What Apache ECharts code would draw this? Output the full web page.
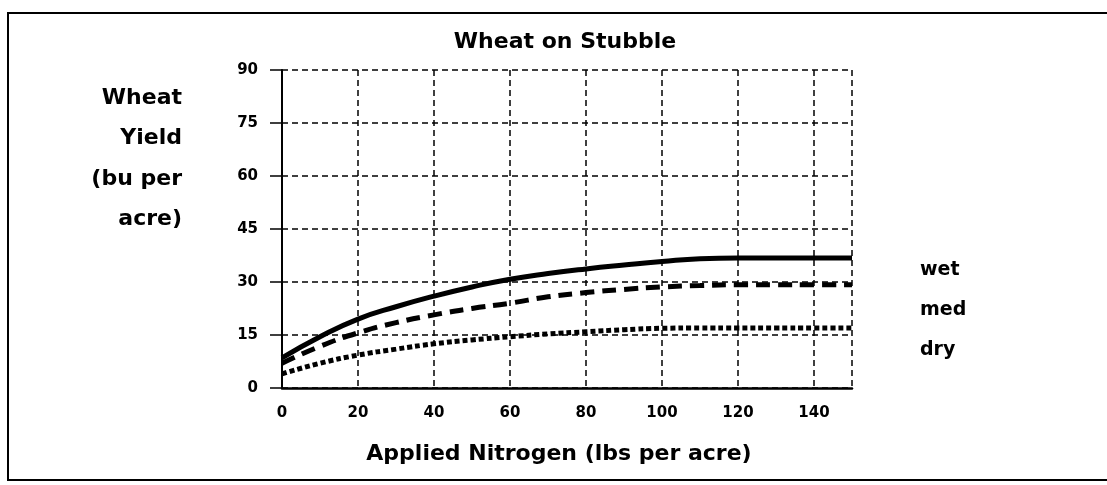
<!DOCTYPE html>
<html>
<head>
<meta charset="utf-8">
<title>Wheat on Stubble</title>
<script src="https://cdn.jsdelivr.net/npm/echarts@6/dist/echarts.min.js"></script>
<style>
* {
  margin: 0;
  padding: 0;
}
body {
  background: #fff;
}
</style>
</head>
<body>
<div id="wheatChartId" style="width: 1107px;height: 485px;"></div>
<script>
// applied nitrogen, lbs per acre
let nitrogen = [0, 10, 20, 30, 40, 50, 60, 70, 80, 90, 100, 110, 120, 130, 140, 150];
// yield, bu per acre
let wetYield = [8.5, 14.5, 19.5, 23, 26, 28.6, 30.8, 32.4, 33.7, 34.8, 35.8, 36.6, 36.8, 36.8, 36.8, 36.8];
let medYield = [7, 11.8, 15.6, 18.5, 20.7, 22.5, 24, 25.8, 27, 27.9, 28.6, 29, 29.2, 29.2, 29.2, 29.2];
let dryYield = [4, 7, 9.3, 11, 12.5, 13.6, 14.5, 15.3, 15.9, 16.5, 16.9, 17, 17, 17, 17, 17];
let seriesNames = ["wet", "med", "dry"];

let font = "DejaVu Sans";

function pairs(ys) {
  return nitrogen.map((x, i) => [x, ys[i]]);
}

let chart = echarts.init(document.getElementById("wheatChartId"));
let gridDash = { color: "#000", width: 1.5, type: [6, 4] };

let option = {
  backgroundColor: "#fff",
  animation: false,
  title: {
    text: "Wheat on Stubble",
    left: 565,
    top: 31,
    padding: 0,
    textAlign: "center",
    textStyle: { fontFamily: font, fontWeight: "bold", fontSize: 22, color: "#000" }
  },
  legend: {
    data: seriesNames,
    orient: "vertical",
    left: 910,
    top: 254,
    icon: "rect",
    itemWidth: 0,
    itemHeight: 22,
    itemGap: 18,
    textStyle: { fontFamily: font, fontWeight: "bold", fontSize: 19, color: "#000" }
  },
  grid: {
    left: 282,
    right: 255,
    top: 70,
    bottom: 97
  }, // plot box: x 282..852, y 70..388
  xAxis: {
    type: "value",
    min: 0,
    max: 150,
    interval: 20,
    name: "Applied Nitrogen (lbs per acre)",
    nameLocation: "middle",
    nameGap: 55,
    nameTextStyle: {
      fontFamily: font, fontWeight: "bold", fontSize: 22, color: "#000",
      padding: [0, 16, 0, 0]
    },
    axisLine: { show: true, lineStyle: { color: "#000", width: 2.5 } },
    axisTick: { show: false },
    axisLabel: {
      showMaxLabel: false,
      margin: 18,
      fontFamily: font, fontWeight: "bold", fontSize: 15, color: "#000"
    },
    splitLine: { show: true, lineStyle: gridDash }
  },
  yAxis: {
    type: "value",
    min: 0,
    max: 90,
    interval: 15,
    axisLine: { show: true, lineStyle: { color: "#000", width: 2 } },
    axisTick: { show: true, length: 12, lineStyle: { color: "#000", width: 1.5 } },
    axisLabel: {
      margin: 24,
      fontFamily: font, fontWeight: "bold", fontSize: 15, color: "#000"
    },
    splitLine: { show: true, lineStyle: gridDash }
  },
  graphic: [
    {
      // outer frame
      type: "rect",
      shape: { x: 8, y: 13, width: 1110, height: 467 },
      style: { fill: "none", stroke: "#000", lineWidth: 2 },
      silent: true
    },
    {
      // y axis title, right aligned
      type: "text",
      x: 182,
      y: 78,
      style: {
        text: "Wheat\nYield\n(bu per\nacre)",
        align: "right",
        verticalAlign: "top",
        lineHeight: 40.5,
        font: "bold 22px " + font,
        fill: "#000"
      }
    }
  ],
  series: [
    {
      name: seriesNames[0],
      type: "line",
      data: pairs(wetYield),
      smooth: true,
      showSymbol: false,
      lineStyle: { color: "#000", width: 5 },
      itemStyle: { color: "#000" }
    },
    {
      name: seriesNames[1],
      type: "line",
      data: pairs(medYield),
      smooth: true,
      showSymbol: false,
      lineStyle: { color: "#000", width: 5, type: [14, 8] },
      itemStyle: { color: "#000" }
    },
    {
      name: seriesNames[2],
      type: "line",
      data: pairs(dryYield),
      smooth: true,
      showSymbol: false,
      lineStyle: { color: "#000", width: 5, type: [5, 3] },
      itemStyle: { color: "#000" }
    }
  ]
};
chart.setOption(option);
</script>
</body>
</html>
